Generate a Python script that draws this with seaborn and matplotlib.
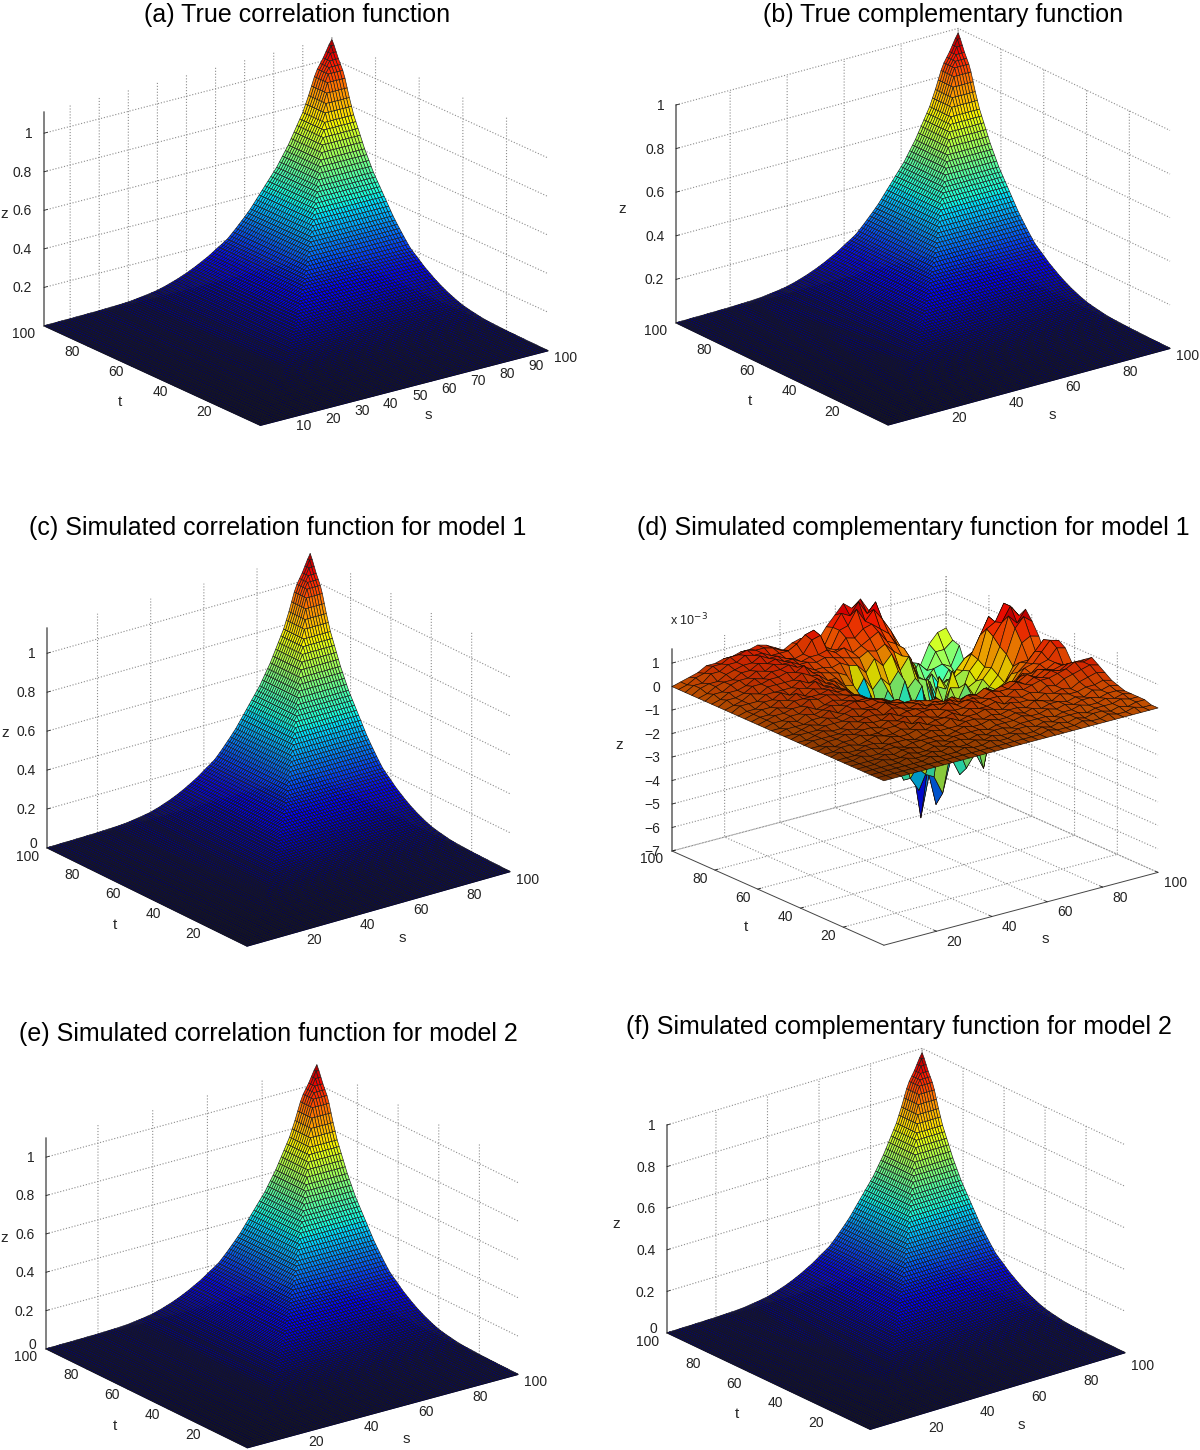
import numpy as np
import matplotlib
matplotlib.use("Agg")
import matplotlib.pyplot as plt
import seaborn as sns
from mpl_toolkits.mplot3d import proj3d

# surface height along the edge t = 100, for s = 1..100
edge_z = [.002,.002,.002,.002,.002,.003,.003,.003,.003,.003,
          .003,.004,.004,.004,.004,.005,.005,.005,.005,.006,
          .006,.007,.007,.008,.008,.009,.009,.010,.011,.012,
          .013,.015,.017,.019,.021,.023,.025,.028,.030,.033,
          .037,.041,.045,.050,.055,.060,.065,.071,.077,.083,
          .090,.097,.104,.112,.120,.128,.136,.145,.155,.165,
          .175,.184,.194,.204,.218,.233,.248,.264,.280,.296,
          .313,.330,.350,.370,.390,.410,.430,.450,.470,.490,
          .510,.535,.560,.585,.610,.640,.670,.700,.730,.760,
          .800,.840,.885,.930,.965,.990,1.015,1.045,1.075,1.100]

noise_z = [
[0]*33,
[0,0,0,0,0,0,0,0,0,0,0,0,0,0,0,0,0,0,0,0,.1,0,0,0,.1,0,0,.1,0,0,.1,0,0],
[0,0,0,0,0,0,0,.1,0,0,0,.1,0,0,.1,0,0,.1,0,0,.1,0,.1,0,.1,0,.1,.1,0,.1,0,.1,.1],
[0,0,0,0,0,.1,0,0,.1,0,.1,0,0,.1,0,.1,0,0,.1,.1,0,.1,0,.1,.1,.1,0,.1,.1,.1,.2,.1,.1],
[0,0,0,.1,0,0,.1,0,0,.1,0,.1,.1,0,.1,0,.1,.1,0,.1,.1,.1,.1,0,.1,.1,.2,.1,.1,.2,.1,.2,.1],
[0,0,0,0,.1,0,.1,.1,0,.1,.1,0,.1,.1,.1,.1,0,.1,.1,.1,.2,.1,.1,.2,.1,.2,.1,.2,.2,.1,.2,.2,.1],
[0,0,.1,0,0,.1,.1,0,.1,.1,.1,.1,0,.1,.2,.1,.1,.2,.1,.1,.2,.1,.2,.1,.2,.2,.1,.2,.1,.3,.2,.3,.2],
[0,0,0,.1,.1,0,.1,.1,.1,0,.1,.2,.1,.1,.1,.2,.2,.1,.2,.1,.2,.2,.1,.3,.2,.1,.3,.2,.2,.3,.3,.4,.3],
[0,.1,0,0,.1,.1,0,.2,.1,.1,.2,.1,.2,.1,.3,.1,.2,.2,.3,.2,.1,.3,.2,.2,.1,.3,.2,.3,.2,.4,.5,.6,.5],
[0,0,.1,.1,0,.1,.2,.1,.1,.2,.1,.3,.1,.2,.2,.3,.1,.3,.2,.2,.3,.1,.3,.2,.3,.2,.4,.3,.5,.6,.7,.8,.7],
[0,.1,0,.1,.1,.2,.1,.1,.2,.2,.3,.1,.3,.2,.1,.3,.2,.2,.4,.2,.3,.3,.2,.4,.3,.4,.5,.5,.6,.7,.9,.8,.9],
[0,0,.1,.1,.2,.1,.2,.2,.1,.3,.2,.3,.2,.3,.3,.2,.4,.2,.3,.3,.2,.4,.3,.3,.5,.3,.5,.4,.6,.5,.7,.6,.7],
[0,.1,.1,.1,.1,.2,.1,.3,.2,.2,.4,.2,.3,.3,.2,.3,.2,.3,.1,.3,.2,.4,.2,.3,.4,.3,.5,.3,.5,.4,.5,.4,.5],
[0,0,.1,.2,.1,.1,.3,.2,.3,.3,.2,.4,.3,.2,.3,.1,.2,.1,.2,0,.1,0,.2,-.1,.1,0,.3,.1,.4,.3,.5,.3,.3],
[0,.1,.1,.1,.2,.2,.2,.3,.2,.4,.3,.5,.3,.3,.2,.2,.1,.1,-.2,-.4,-.9,-.5,-1.0,-.6,-.7,-.1,-.2,.2,.1,.4,.5,.9,.8],
[0,0,.1,.2,.1,.3,.2,.3,.4,.3,.3,.4,.3,.2,.1,.1,-.2,-.6,-1.4,-1.0,-2.4,-2.0,-3.0,-1.8,-2.2,-1.0,-.4,-.2,.2,.3,.7,1.1,1.0],
[0,.1,.1,.1,.2,.2,.4,.2,.4,.5,.4,.4,.3,.1,.1,-.2,-.6,-1.2,-2.5,-1.6,-3.0,-2.6,-3.6,-2.4,-3.8,-2.0,-1.6,-.6,-.1,.2,.6,1.0,.7],
[0,0,.2,.1,.3,.2,.3,.4,.3,.4,.3,.3,.2,.1,-.1,-.5,-1.2,-3.2,-3.6,-3.8,-4.6,-3.2,-4.0,-2.6,-3.4,-1.6,-1.2,-.8,-.3,.1,.1,.2,.1],
[0,.1,.1,.2,.2,.4,.2,.3,.4,.3,.4,.3,.1,-.1,-.4,-1.0,-2.5,-3.8,-4.4,-3.6,-5.2,-3.6,-3.2,-2.8,-2.6,-1.4,-1.6,-1.0,-.8,-.2,.7,.9,.8],
[0,.1,.2,.2,.3,.3,.5,.4,.5,.4,.3,.2,.1,-.2,-.8,-1.6,-3.2,-4.0,-3.4,-5.8,-4.0,-3.6,-2.6,-2.2,-2.0,-1.2,-1.5,-1.0,-.6,.2,1.2,1.6,1.3],
[0,.1,.1,.3,.2,.4,.4,.4,.4,.5,.3,.3,0,-.3,-1.0,-2.0,-2.2,-3.4,-4.2,-3.2,-4.6,-2.8,-2.4,-1.6,-1.5,-.8,-1.4,-.8,-.4,.4,1.6,1.2,1.7],
[0,.1,.2,.2,.4,.3,.5,.3,.5,.4,.4,.2,.1,-.4,-.7,-1.6,-2.6,-2.4,-3.0,-3.6,-2.6,-4.0,-2.0,-2.2,-1.0,-1.1,-1.2,-1.0,-.5,.7,1.2,1.8,1.3],
[0,.1,.1,.3,.3,.5,.3,.5,.4,.6,.3,.3,0,-.2,-.9,-1.2,-2.4,-1.9,-2.6,-2.0,-3.2,-2.6,-3.4,-1.4,-1.8,-.5,-1.6,-.7,-.3,.9,1.1,1.8,1.5],
[0,.2,.2,.2,.4,.4,.4,.4,.6,.4,.5,.2,.2,-.1,-.6,-.7,-2.8,-1.6,-2.4,-1.3,-2.6,-1.6,-2.8,-3.0,-1.2,-1.4,-1.0,-.8,-.2,.5,1.2,.8,1.0],
[0,.1,.2,.4,.3,.5,.5,.5,.5,.7,.5,.4,.1,.1,-.3,-.4,-3.0,-1.0,-1.9,-1.0,-1.9,-.8,-1.9,-1.2,-3.0,-1.0,-1.6,-.9,-.5,-.3,.4,.4,.3],
[0,.2,.2,.3,.5,.5,.6,.6,.7,.6,.8,.4,.3,.2,.1,-.1,-1.0,-.4,-1.0,-.6,-1.0,-.5,-1.4,-1.0,-1.8,-2.8,-1.6,-1.4,-1.1,-1.0,-.7,-.9,-.8],
[0,.1,.3,.3,.4,.6,.5,.7,.7,.8,.6,.5,.3,.3,.2,.3,.1,0,-.4,.1,-.3,.1,-.7,-.2,-1.2,-1.4,-2.6,-1.8,-2.2,-1.6,-1.9,-1.7,-1.6],
[0,.2,.2,.4,.5,.5,.7,.6,.8,.7,.7,.5,.5,.4,.5,.4,.3,.2,.1,.3,.2,.4,0,-.3,-.5,-1.6,-1.6,-2.8,-2.0,-2.5,-2.2,-2.6,-2.0],
[0,.1,.3,.4,.4,.6,.6,.8,.7,.8,.6,.6,.4,.5,.5,.6,.4,.5,.2,.4,.6,.8,.3,.1,-.2,-1.0,-2.2,-1.9,-2.8,-2.0,-2.4,-2.0,-1.7],
[0,.2,.3,.3,.5,.6,.7,.7,.9,.7,.7,.5,.4,.5,1.0,1.1,.2,.3,.7,.6,.9,1.0,.7,.4,-.2,-.8,-1.2,-2.4,-1.8,-2.4,-1.8,-2.2,-1.9],
[0,.2,.2,.5,.5,.7,.7,.9,.8,.8,.6,.6,.6,.8,1.1,1.2,.3,.2,.9,1.0,1.6,1.0,1.4,.9,.3,-.4,-1.6,-1.9,-2.2,-1.8,-1.7,-1.9,-1.1],
[0,.1,.3,.4,.6,.6,.8,.8,.9,.8,.8,.7,.5,.4,.6,.7,.3,.2,.9,1.4,1.2,1.7,1.1,1.5,.2,-.6,-1.8,-2.2,-1.6,-2.0,-1.3,-1.3,-1.0],
[0,.1,.2,.3,.5,.5,.6,.6,.7,.7,.8,.7,.5,.3,.5,.6,.2,.3,.8,1.2,1.6,1.3,1.6,1.0,.2,-.8,-1.6,-2.0,-1.7,-1.9,-1.1,-.7,-.6],
]

titles = ["(a) True correlation function", "(b) True complementary function",
          "(c) Simulated correlation function for model 1",
          "(d) Simulated complementary function for model 1",
          "(e) Simulated correlation function for model 2",
          "(f) Simulated complementary function for model 2"]
title_xy = [(297, 15), (943, 15), (278, 528), (913, 528), (268, 1034), (899, 1027)]

z_ticks_ab = [0.2, 0.4, 0.6, 0.8, 1]
z_labels_ab = ["0.2", "0.4", "0.6", "0.8", "1"]
z_ticks_cef = [0, 0.2, 0.4, 0.6, 0.8, 1]
z_labels_cef = ["0", "0.2", "0.4", "0.6", "0.8", "1"]
z_ticks_d = [-7, -6, -5, -4, -3, -2, -1, 0, 1]
z_labels_d = ["\u22127", "\u22126", "\u22125", "\u22124", "\u22123", "\u22122", "\u22121", "0", "1"]
s_ticks_a = [10, 20, 30, 40, 50, 60, 70, 80, 90, 100]
s_ticks = [20, 40, 60, 80, 100]
t_ticks = [20, 40, 60, 80, 100]

peaks = [1.10, 0.98, 1.13, None, 1.10, 0.98]

# left corner px, right corner x, z range in px, elevation, azimuth, label shifts
panels = [
    dict(zlim=(0, 1.11), zt=z_ticks_ab, zl=z_labels_ab, st=s_ticks_a, left=(44, 326), right=548, h=214, el=20.2, az=36.9, zdx=22, ldy=0),
    dict(zlim=(0, 0.98), zt=z_ticks_ab, zl=z_labels_ab, st=s_ticks, left=(676, 323), right=1170, h=218, el=21.2, az=36.9, zdx=8, ldy=0),
    dict(zlim=(0, 1.13), zt=z_ticks_cef, zl=z_labels_cef, st=s_ticks, left=(47, 848), right=510, h=220, el=21.9, az=37.2, zdx=19, ldy=0),
    dict(zlim=(-7, 1.6), zt=z_ticks_d, zl=z_labels_d, st=s_ticks, left=(672, 851), right=1158, h=202, el=20.1, az=37.7, zdx=10, ldy=-3),
    dict(zlim=(0, 1.10), zt=z_ticks_cef, zl=z_labels_cef, st=s_ticks, left=(46, 1349), right=518, h=211, el=21.4, az=36.6, zdx=20, ldy=0),
    dict(zlim=(0, 0.98), zt=z_ticks_cef, zl=z_labels_cef, st=s_ticks, left=(667, 1333), right=1125, h=208, el=22.2, az=38.5, zdx=11, ldy=-5),
]

sns.set_theme(style="white")
plt.rcParams["font.family"] = ["Liberation Sans", "DejaVu Sans"]
jet = plt.get_cmap("jet")

W, H = 1200, 1450
fig = plt.figure(figsize=(W / 100, H / 100), dpi=100, facecolor="white")


def corner_px(ax, x, y, z):
    px, py, _ = proj3d.proj_transform(x, y, z, ax.get_proj())
    return ax.transData.transform((px, py))


def nudge(ax, text, dx, dy):
    # axis3d sets the text position just before it draws, so shift it there (in pixels)
    draw = text.draw

    def shifted(renderer):
        px = ax.transData.transform(text.get_position())
        text.set_position(ax.transData.inverted().transform((px[0] + dx, px[1] + dy)))
        draw(renderer)

    text.draw = shifted


e = np.array(edge_z)

for k, p in enumerate(panels):
    ax = fig.add_axes([0.1, 0.1, 500 / W, 500 / H], projection="3d", proj_type="ortho")

    if peaks[k] is None:
        Z = np.array(noise_z, dtype=float)
    else:
        i, j = np.meshgrid(np.arange(100), np.arange(100))
        Z = e[np.minimum(i, j)] * peaks[k] / 1.10
    n = Z.shape[0]
    S, T = np.meshgrid(np.linspace(1, 100, n), np.linspace(1, 100, n))

    # the dense black mesh of the original darkens the near part of the surface
    if peaks[k] is None:
        fc = jet(np.interp(Z, [-5, 0, 1.6], [0.05, 0.80, 0.93]))
        fc[..., :3] *= np.clip(0.45 + (S + T) / 180 * 0.55, 0, 1)[..., None]
        ax.plot_surface(S, T, Z, facecolors=fc, rstride=1, cstride=1, edgecolor="#1a0a00",
                        linewidth=0.45, antialiased=True, shade=False)
    else:
        fc = jet(Z / Z.max() * 0.98)
        fc[..., :3] *= np.clip(0.6 + (S + T) / 100 * 0.4, 0, 1)[..., None]
        # dark plate under the mesh, so that no white shows through the seams
        ax.computed_zorder = False
        ax.plot_surface(S[[0, -1]][:, [0, -1]], T[[0, -1]][:, [0, -1]], np.zeros((2, 2)),
                        color=(0, 0, 0.22), shade=False, linewidth=0, zorder=1)
        ax.plot_surface(S, T, Z, facecolors=fc, rstride=1, cstride=1, edgecolor="k",
                        linewidth=0.45, antialiased=True, shade=False, zorder=2)

    ax.set_xlim(1, 100)
    ax.set_ylim(1, 100)
    ax.set_zlim(*p["zlim"])
    ax.view_init(elev=p["el"], azim=-90 - p["az"])

    # z box height from the pixel sizes
    a = np.radians(p["az"])
    span = p["right"] - p["left"][0]
    c = p["h"] * (np.cos(a) + np.sin(a)) / (span * np.cos(np.radians(p["el"])))
    ax.set_box_aspect((1, 1, c))

    # size and move the axes so that the base corners land where they are in the picture
    fig.canvas.draw()
    x0 = corner_px(ax, 1, 100, p["zlim"][0])
    x1 = corner_px(ax, 100, 1, p["zlim"][0])
    size = 500 * span / (x1[0] - x0[0])
    ax.set_position([0.1, 0.1, size / W, size / H])
    ax.apply_aspect()
    x0 = corner_px(ax, 1, 100, p["zlim"][0])
    left_x = 0.1 * W + p["left"][0] - x0[0]
    left_y = 0.1 * H + (H - p["left"][1]) - x0[1]
    ax.set_position([left_x / W, left_y / H, size / W, size / H])

    ax.set_xticks(p["st"])
    ax.set_xticklabels([str(v) for v in p["st"]])
    ax.set_yticks(t_ticks)
    ax.set_yticklabels([str(v) for v in t_ticks])
    ax.set_zticks(p["zt"])
    ax.set_zticklabels(p["zl"])
    ax.tick_params(axis="x", labelsize=10, colors="#222222", pad=-3)
    ax.tick_params(axis="y", labelsize=10, colors="#222222", pad=-3)
    ax.tick_params(axis="z", labelsize=10, colors="#222222", pad=0)

    ax.zaxis.set_ticks_position("upper")
    ax.zaxis.set_label_position("upper")
    ax.zaxis.set_rotate_label(False)
    ax.set_xlabel("s", fontsize=11, labelpad=-6)
    ax.set_ylabel("t", fontsize=11, labelpad=-6)
    ax.set_zlabel("z", fontsize=11, labelpad=4)

    for v, tick in zip(p["st"], ax.xaxis.get_major_ticks()):
        nudge(ax, tick.label1, 12, 7 + p["ldy"])
    for v, tick in zip(t_ticks, ax.yaxis.get_major_ticks()):
        if v == 100:
            nudge(ax, tick.label1, -13, 6)
        else:
            nudge(ax, tick.label1, -8, 8 + p["ldy"])
    for v, tick in zip(p["zt"], ax.zaxis.get_major_ticks()):
        tick.label1.set_ha("right")
        if v == 0 and p["zlim"][0] == 0:
            nudge(ax, tick.label1, 10, 10)
        else:
            nudge(ax, tick.label1, 8, 5)
    nudge(ax, ax.xaxis.label, 8, -4 + p["ldy"])
    nudge(ax, ax.yaxis.label, -11, -5 + p["ldy"])
    nudge(ax, ax.zaxis.label, p["zdx"], 2)

    for axis in (ax.xaxis, ax.yaxis, ax.zaxis):
        axis.pane.set_facecolor("white")
        axis.pane.set_edgecolor("none")
        axis._axinfo["grid"].update(color="0.55", linestyle=":", linewidth=0.8)
        axis._axinfo["tick"].update(inward_factor=0.0, outward_factor=0.15)
        axis._axinfo["tick"]["color"] = "#333333"
        axis._axinfo["tick"]["linewidth"] = {True: 0.6, False: 0.4}
    ax.xaxis.line.set_color("#444444")
    ax.yaxis.line.set_color("#444444")
    ax.xaxis.line.set_linewidth(0.7)
    ax.yaxis.line.set_linewidth(0.7)
    ax.zaxis.line.set_color("#777777")
    ax.zaxis.line.set_linewidth(1.3)

    fig.text(title_xy[k][0] / W, 1 - title_xy[k][1] / H, titles[k], ha="center", va="center",
             fontsize=18, color="black")

fig.text(670 / W, 1 - 620 / H, "x 10$^{-3}$", fontsize=9, va="center", color="#222222")

fig.savefig("out.png", dpi=100)
